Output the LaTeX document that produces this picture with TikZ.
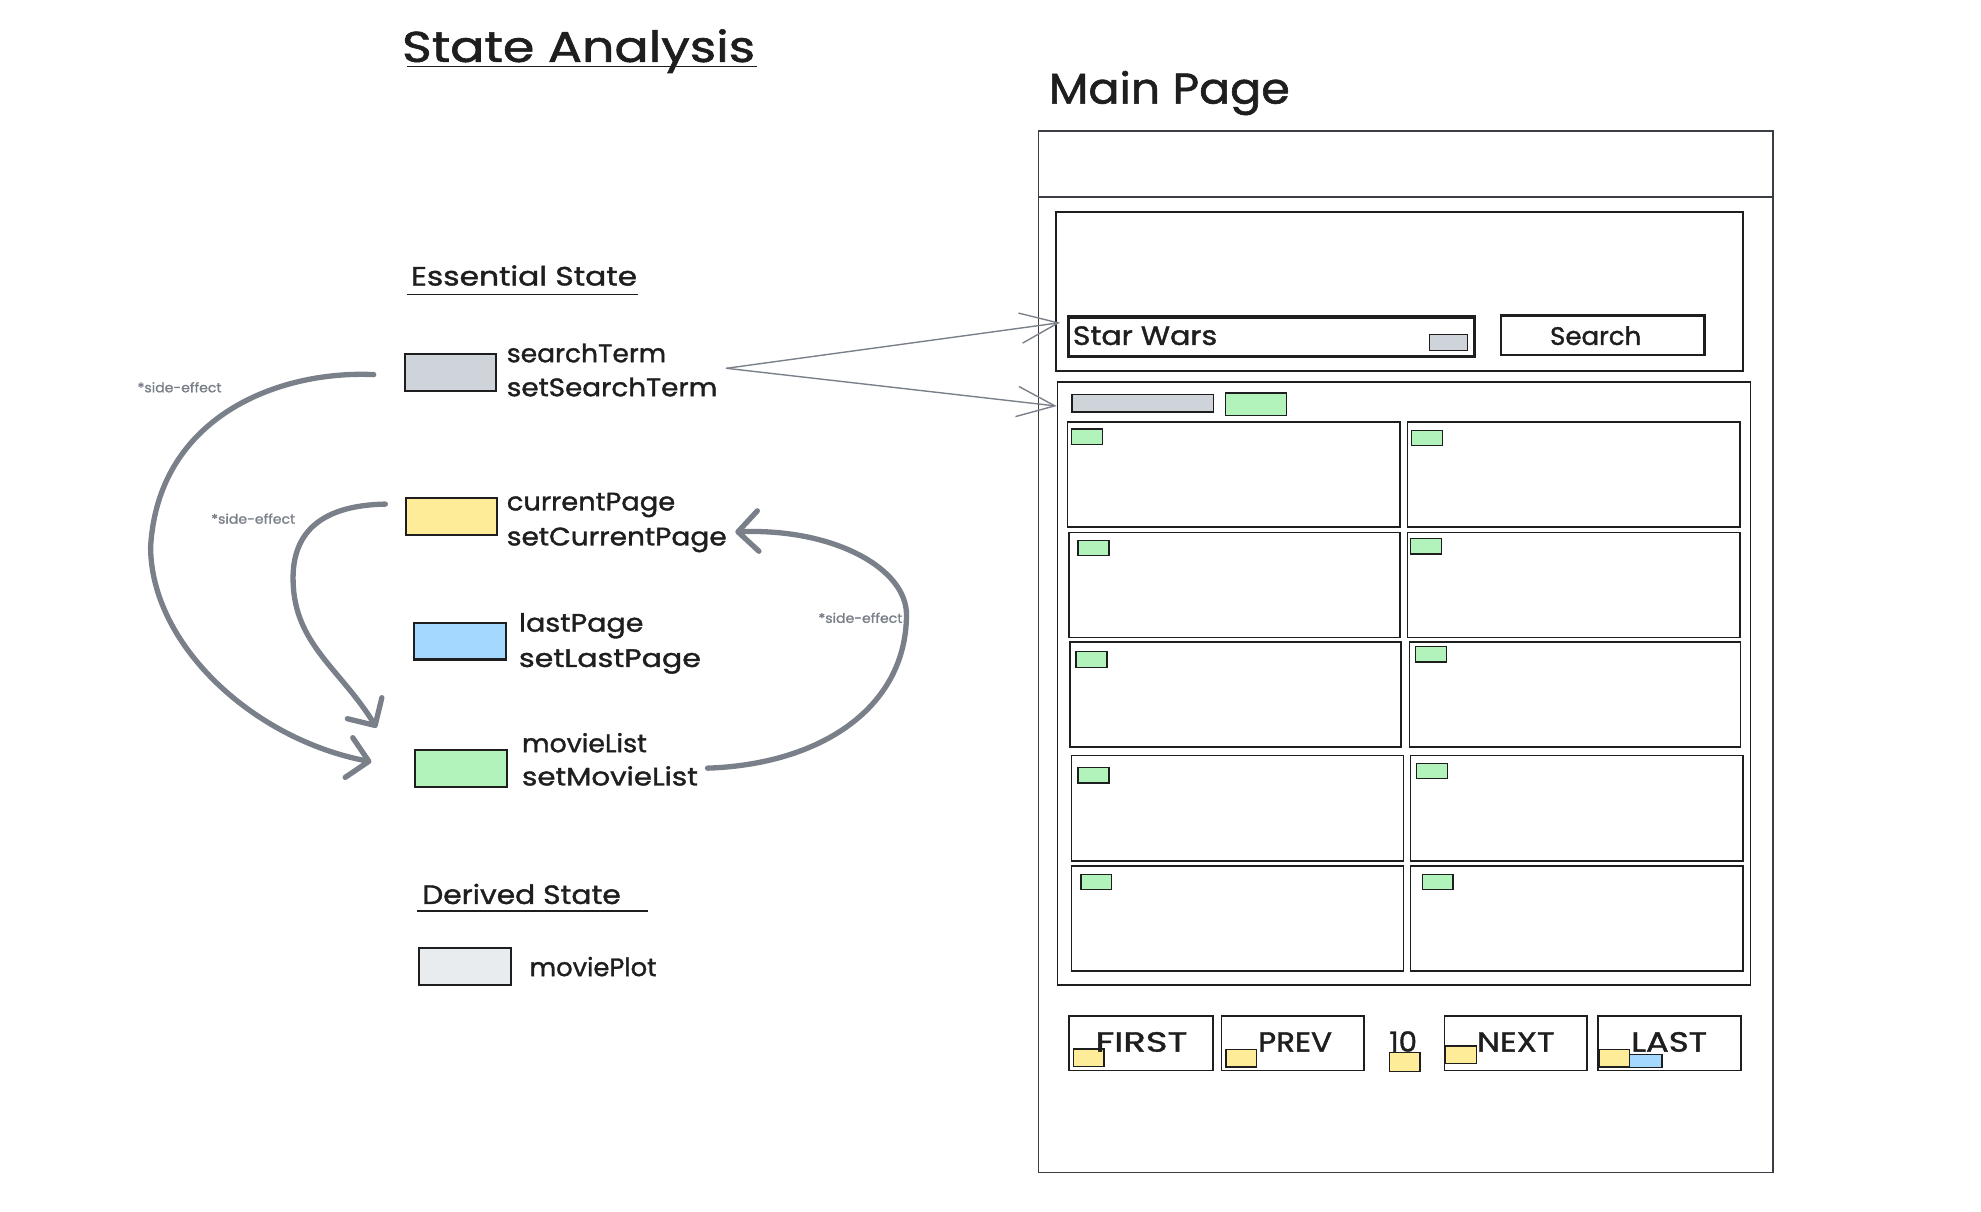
\documentclass[tikz,border=0pt]{standalone}
\usepackage{fontspec}
\usepackage{graphicx}
\setmainfont{Poppins}[FakeBold=1.3]
\usetikzlibrary{arrows.meta}
\definecolor{ink}{HTML}{1E1E1E}
\definecolor{framec}{HTML}{3A3E44}
\definecolor{agray}{HTML}{7A8089}
\definecolor{fgray}{HTML}{CED4DA}
\definecolor{fyellow}{HTML}{FFEC99}
\definecolor{fblue}{HTML}{A5D8FF}
\definecolor{fgreen}{HTML}{B2F2BB}
\definecolor{flight}{HTML}{E9ECEF}
\newcommand{\hsx}[2]{\scalebox{#1}[1]{#2}}
\tikzset{
 bx/.style={draw=ink, line width=1.2pt, inner sep=0pt, outer sep=0pt, anchor=north west},
 tag/.style={bx, line width=0.9pt, fill=fgreen, minimum width=24.5pt, minimum height=12pt},
 cell/.style={bx, line width=1.3pt, minimum width=263pt, minimum height=83pt},
 pbtn/.style={bx, line width=1.3pt, minimum width=113.5pt, minimum height=43pt},
 ysq/.style={bx, line width=1pt, fill=fyellow, minimum width=24pt, minimum height=14pt},
 swatch/.style={bx, line width=1.6pt, minimum width=72.5pt, minimum height=29pt},
 lbl/.style={anchor=base west, inner sep=0pt, text=ink, font=\fontsize{20}{24}\selectfont},
 btxt/.style={anchor=base west, inner sep=0pt, text=ink, font=\fontsize{22}{24}\selectfont},
 ttl/.style={anchor=base west, inner sep=0pt, text=ink, font=\fontsize{34}{40}\selectfont},
 sub/.style={anchor=base west, inner sep=0pt, text=ink, font=\fontsize{21}{24}\selectfont},
 note/.style={anchor=base west, inner sep=0pt, text=agray, font=\fontsize{10.5}{12}\selectfont},
 heavy/.style={draw=agray, line width=4.2pt, line cap=round, line join=round, -{Straight Barb[round, length=16pt, width=32pt]}},
 light/.style={draw=agray, line width=1.1pt, line cap=round, -{Straight Barb[length=30pt, width=24pt]}},
 uline/.style={draw=ink, line width=1.2pt},
}
\begin{document}
\begin{tikzpicture}[x=1pt,y=-1pt]
\useasboundingbox[fill=white] (0,0) rectangle (1568,959);

% ---------- left: state analysis ----------
\node[ttl] (title) at (318,49) {\hsx{1.18}{State Analysis}};
\draw[uline] (322,52.5) -- (599,52.5);

\node[sub] (ess) at (325,226) {\hsx{1.18}{Essential State}};
\draw[uline] (322,233) -- (505,233);

\node[swatch, fill=fgray] (sterm) at (320.4,280.5) {};
\node[lbl] (st1) at (401,286.7) {\hsx{1.05}{searchTerm}};
\node[lbl] (st2) at (401,313.6) {\hsx{1.10}{setSearchTerm}};

\node[swatch, fill=fyellow] (cpage) at (321,394.5) {};
\node[lbl] (cp1) at (401,404) {\hsx{1.08}{currentPage}};
\node[lbl] (cp2) at (401,431.7) {\hsx{1.11}{setCurrentPage}};

\node[swatch, fill=fblue] (lpage) at (328,493) {};
\node[lbl] (lp1) at (410.6,500) {\hsx{1.13}{lastPage}};
\node[lbl] (lp2) at (410.6,527.9) {\hsx{1.19}{setLastPage}};

\node[swatch, fill=fgreen] (mlist) at (328.6,594) {};
\node[lbl] (ml1) at (413,595.4) {\hsx{1.06}{movieList}};
\node[lbl] (ml2) at (413,621.7) {\hsx{1.16}{setMovieList}};

\node[sub] (der) at (334,715.5) {\hsx{1.12}{Derived State}};
\draw[uline] (330,721) -- (513,721);

\node[swatch, fill=flight] (mplot) at (332,750.6) {};
\node[lbl] (mp1) at (419,772.6) {\hsx{1.02}{moviePlot}};

% side-effect arrows
\coordinate (aS) at (295.8,296.5);
\coordinate (aE) at (294,603);
\draw[heavy] (aS) .. controls (220,293) and (125,330) .. (119.2,433)
                 .. controls (119.5,510) and (200,585) .. (aE);
\node[note] (n1) at (108.7,310.5) {\hsx{1.06}{*side-effect}};

\coordinate (bS) at (305,399);
\coordinate (bE) at (298,576);
\draw[heavy] (bS) .. controls (250,400) and (231,425) .. (232,460)
                 .. controls (233,510) and (270,530) .. (bE);
\node[note] (n2) at (167,414.5) {\hsx{1.06}{*side-effect}};

\coordinate (cS) at (560,608);
\coordinate (cE) at (582,421);
\draw[heavy] (cS) .. controls (650,605) and (717,560) .. (717.5,487)
                 .. controls (718,450) and (660,418) .. (cE);
\node[note] (n3) at (647.6,493) {\hsx{1.06}{*side-effect}};

% ---------- right: main page ----------
\node[ttl] (mainttl) at (830,82) {\hsx{1.07}{Main Page}};

\node[bx, draw=framec, line width=1.5pt, minimum width=581pt, minimum height=824pt] (frame) at (822,104) {};
\node[bx, draw=framec, line width=1.5pt, minimum width=581pt, minimum height=52pt] (header) at (822,104) {};

\node[bx, line width=1.5pt, minimum width=544pt, minimum height=126pt] (spanel) at (835.5,168) {};
\node[bx, line width=2.6pt, minimum width=321pt, minimum height=31pt] (input) at (846,251) {};
\node[bx, line width=1pt, fill=fgray, minimum width=30pt, minimum height=13pt] (ingray) at (1131.5,264.5) {};
\node[btxt, font=\fontsize{21}{24}\selectfont] (sw) at (849,273) {\hsx{1.13}{Star Wars}};
\node[bx, line width=2.2pt, minimum width=161pt, minimum height=31pt] (sbtn) at (1188,250) {};
\node[anchor=base, inner sep=0pt, text=ink, font=\fontsize{20}{24}\selectfont] (stxt) at (1263,273) {\hsx{1.03}{Search}};

\node[bx, line width=1.5pt, minimum width=548.5pt, minimum height=477.5pt] (results) at (837,302) {};
\node[bx, line width=1pt, fill=fgray, minimum width=112pt, minimum height=14pt] (rgray) at (848.5,312) {};
\node[bx, line width=1pt, fill=fgreen, minimum width=48pt, minimum height=18pt] (rgreen) at (970,311) {};

% grid
\node[cell] (c1l) at (845,334) {};
\node[cell] (c1r) at (1114,334) {};
\node[cell, minimum width=262pt] (c2l) at (846,421.5) {};
\node[cell] (c2r) at (1114,421.5) {};
\node[cell, minimum width=262.3pt] (c3l) at (846.7,508.3) {};
\node[cell, minimum width=262pt] (c3r) at (1115.5,508.3) {};
\node[cell, minimum height=83.5pt] (c4l) at (848,598) {};
\node[cell, minimum height=83.5pt] (c4r) at (1116.4,598) {};
\node[cell] (c5l) at (848,685.5) {};
\node[cell] (c5r) at (1116.4,685.5) {};

\node[tag] (g1l) at (848.3,339.5) {};
\node[tag] (g1r) at (1117,340.5) {};
\node[tag] (g2l) at (853.3,428) {};
\node[tag] (g2r) at (1116.4,426.5) {};
\node[tag] (g3l) at (851.7,516) {};
\node[tag] (g3r) at (1120.3,512) {};
\node[tag] (g4l) at (853.3,607.7) {};
\node[tag] (g4r) at (1121,604) {};
\node[tag] (g5l) at (855.6,692.3) {};
\node[tag] (g5r) at (1125.6,692.3) {};

% pagination
\node[pbtn, minimum width=114pt] (bfirst) at (846,804.2) {};
\node[pbtn, minimum width=113pt] (bprev) at (966.8,804.2) {};
\node[pbtn, minimum width=113pt] (bnext) at (1143.3,804.2) {};
\node[pbtn, minimum width=113pt] (blast) at (1265,804.2) {};

\node[ysq] (yfirst) at (849.8,830.3) {};
\node[ysq] (yprev) at (970.3,830.5) {};
\node[ysq, minimum height=15pt] (ypage) at (1100,833.2) {};
\node[ysq] (ynext) at (1144.4,828) {};
\node[ysq] (ylast) at (1265.6,830.5) {};
\node[bx, line width=1pt, fill=fblue, minimum width=25.7pt, minimum height=10.5pt] (blastb) at (1289.8,834.5) {};

\node[btxt] (tfirst) at (867,832.4) {\hsx{1.33}{FIRST}};
\node[btxt] (tprev) at (995.6,832.4) {\hsx{1.12}{PREV}};
\node[btxt] (tpage) at (1099.5,832.4) {\hsx{1.05}{10}};
\node[btxt] (tnext) at (1169,832.4) {\hsx{1.17}{NEXT}};
\node[btxt] (tlast) at (1291,832.4) {\hsx{1.22}{LAST}};

% searchTerm -> UI
\coordinate (tsrc) at (575,291.5);
\draw[light] (tsrc) -- ([xshift=-7pt,yshift=-4.4pt]input.north west);
\draw[light] (tsrc) -- ([xshift=-0.6pt,yshift=-19.4pt]results.north west);
\end{tikzpicture}
\end{document}
